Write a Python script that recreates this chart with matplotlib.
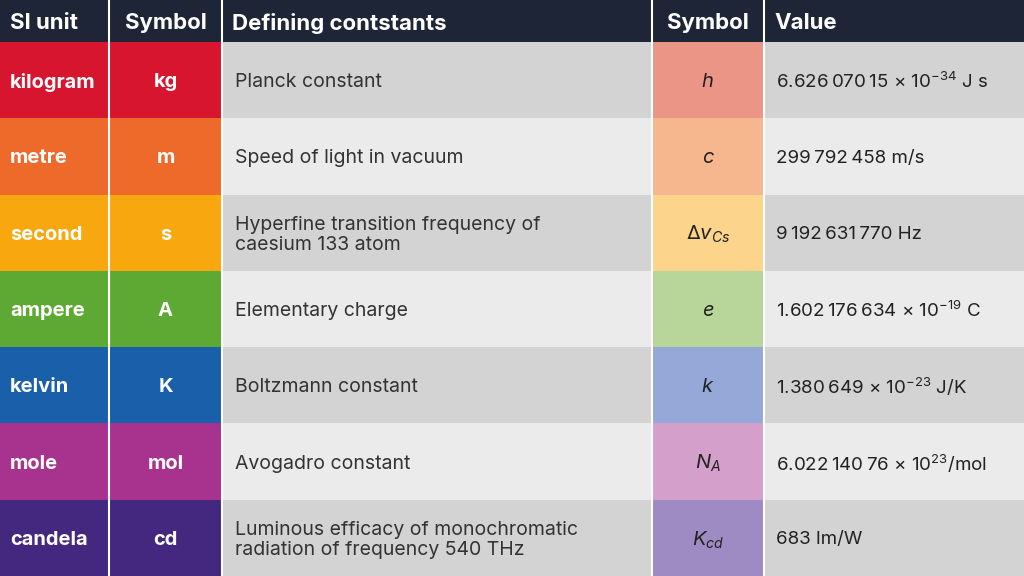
import matplotlib
matplotlib.use("Agg")
import matplotlib.pyplot as plt
import matplotlib.patches as mpatches

plt.rcParams["font.family"] = ["Inter", "DejaVu Sans"]
plt.rcParams["mathtext.fontset"] = "custom"
plt.rcParams["mathtext.rm"] = "Inter"
plt.rcParams["mathtext.it"] = "Inter:italic"

HEADERS = ["SI unit", "Symbol", "Defining contstants", "Symbol", "Value"]
UNITS = ["kilogram", "metre", "second", "ampere", "kelvin", "mole", "candela"]
UNIT_SYMBOLS = ["kg", "m", "s", "A", "K", "mol", "cd"]
CONSTANTS = ["Planck constant", "Speed of light in vacuum",
             "Hyperfine transition frequency of\ncaesium 133 atom",
             "Elementary charge", "Boltzmann constant", "Avogadro constant",
             "Luminous efficacy of monochromatic\nradiation of frequency 540 THz"]
CONST_SYMBOLS = [r"$h$", r"$c$", r"$\Delta v_{Cs}$", r"$e$", r"$k$", r"$N_A$", r"$K_{cd}$"]
TS = "\u2009"
VALUES = [f"6.626{TS}070{TS}15 × 10$^{{-34}}$ J s", f"299{TS}792{TS}458 m/s",
          f"9{TS}192{TS}631{TS}770 Hz", f"1.602{TS}176{TS}634 × 10$^{{-19}}$ C",
          f"1.380{TS}649 × 10$^{{-23}}$ J/K", f"6.022{TS}140{TS}76 × 10$^{{23}}$/mol",
          "683 lm/W"]

DARK = ["#D7152F", "#EE6A2B", "#F8A70E", "#5EA933", "#1A5FAA", "#A7338E", "#44287F"]
LIGHT = ["#EA9585", "#F6B78F", "#FCD48C", "#B9D69A", "#95A8D8", "#D49FCB", "#9E8BC3"]

W, H = 1024, 576
COLS = [0, 109, 222, 652, 764, 1024]
HDR = 42
ROW_H = (H - HDR) / 7

fig = plt.figure(figsize=(W / 100, H / 100), dpi=100)
ax = fig.add_axes([0, 0, 1, 1])
ax.set_xlim(0, W)
ax.set_ylim(H, 0)
ax.axis("off")
fig.patch.set_facecolor("white")

ax.add_patch(mpatches.Rectangle((0, 0), W, HDR, facecolor="#1E2536", linewidth=0))
for i, h in enumerate(HEADERS):
    ax.text(COLS[i] + 10 if i in (0, 2, 4) else (COLS[i] + COLS[i + 1]) / 2, HDR / 2 + 2, h,
            ha="left" if i in (0, 2, 4) else "center", va="center",
            fontsize=16, fontweight="bold", color="white")

for r in range(7):
    y = HDR + r * ROW_H
    bg = "#D3D3D3" if r % 2 == 0 else "#EBEBEB"
    ax.add_patch(mpatches.Rectangle((0, y), COLS[2], ROW_H, facecolor=DARK[r], linewidth=0))
    ax.add_patch(mpatches.Rectangle((COLS[2], y), W - COLS[2], ROW_H, facecolor=bg, linewidth=0))
    ax.add_patch(mpatches.Rectangle((COLS[3], y), COLS[4] - COLS[3], ROW_H, facecolor=LIGHT[r], linewidth=0))
    cy = y + ROW_H / 2 + 2
    ax.text(10, cy, UNITS[r], ha="left", va="center", fontsize=14.5, fontweight="bold", color="white")
    ax.text((COLS[1] + COLS[2]) / 2, cy, UNIT_SYMBOLS[r], ha="center", va="center",
            fontsize=14.5, fontweight="bold", color="white")
    ax.text(COLS[2] + 13, cy, CONSTANTS[r], ha="left", va="center", fontsize=14,
            color="#333333", linespacing=1.15)
    ax.text((COLS[3] + COLS[4]) / 2, cy, CONST_SYMBOLS[r], ha="center", va="center",
            fontsize=14.5, color="#222222")
    ax.text(COLS[4] + 12, cy, VALUES[r], ha="left", va="center", fontsize=13.5, color="#222222")

for x in COLS[1:-1]:
    ax.plot([x, x], [0, H], color="white", linewidth=1.5)

fig.savefig("out.png", dpi=100, facecolor="white")
